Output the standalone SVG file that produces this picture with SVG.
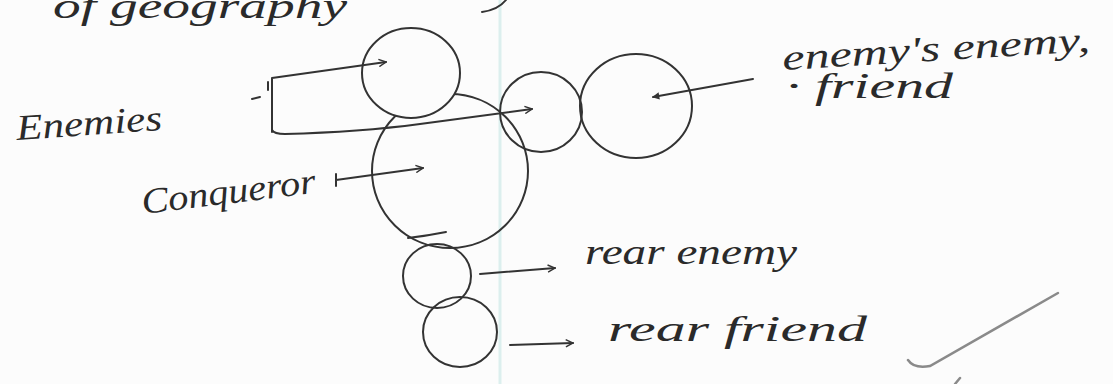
<svg xmlns="http://www.w3.org/2000/svg" width="1113" height="384" viewBox="0 0 1113 384">
<defs>
<style>
.bg{fill:#fcfcfc}
.c{fill:none;stroke:#333;stroke-width:2;stroke-linecap:round}
.ln{fill:none;stroke:#333;stroke-width:2;stroke-linecap:round;stroke-linejoin:round}
.t{font-family:"Liberation Serif",serif;font-style:italic;fill:#2a2a2a;font-size:36px}
.margin{stroke:#dcefee;stroke-width:3}
.check{fill:none;stroke:#8a8a8a;stroke-width:2.5;stroke-linecap:round}
</style>
<marker id="open" viewBox="0 0 10 10" refX="9" refY="5" markerWidth="9" markerHeight="9" markerUnits="userSpaceOnUse" orient="auto">
<path d="M1 1 L9 5 L1 9" fill="none" stroke="#333" stroke-width="1.6"/>
</marker>
<marker id="dot" viewBox="0 0 10 10" refX="8" refY="5" markerWidth="9" markerHeight="9" markerUnits="userSpaceOnUse" orient="auto">
<path d="M1 1 L9 5 L1 9 Z" fill="#333"/>
</marker>
</defs>
<rect class="bg" x="0" y="0" width="1113" height="384"/>
<line class="margin" x1="500" y1="0" x2="500" y2="384"/>

<g id="page-text">
<text class="t" x="53" y="18" textLength="294" lengthAdjust="spacingAndGlyphs" font-size="32">of geography</text>
<path class="ln" d="M482 12 Q498 10 506 0"/>
</g>

<g id="node-conqueror">
<ellipse class="c" cx="450" cy="171" rx="78" ry="77"/>
<path class="ln" d="M408 238 Q426 236 446 232"/>
</g>
<g id="node-enemy-1">
<ellipse class="c" cx="411" cy="73" rx="49" ry="45" fill="#fcfcfc" style="fill:#fcfcfc"/>
</g>
<g id="node-enemy-2">
<ellipse class="c" cx="541" cy="112" rx="41" ry="40"/>
</g>
<g id="node-enemys-enemy">
<ellipse class="c" cx="636" cy="106" rx="56" ry="52"/>
</g>
<g id="node-rear-enemy">
<ellipse class="c" cx="437" cy="276" rx="34" ry="32"/>
</g>
<g id="node-rear-friend">
<ellipse class="c" cx="460" cy="332" rx="37" ry="35"/>
</g>

<g id="label-enemies">
<text class="t" x="17" y="140" textLength="146" lengthAdjust="spacingAndGlyphs" transform="rotate(-4 17 140)">Enemies</text>
</g>
<g id="label-conqueror">
<text class="t" x="143" y="214" textLength="175" lengthAdjust="spacingAndGlyphs" transform="rotate(-7 143 214)">Conqueror</text>
</g>
<g id="label-enemys-enemy">
<text class="t" x="783" y="70" textLength="308" lengthAdjust="spacingAndGlyphs" transform="rotate(-3.5 783 70)">enemy's enemy,</text>
<text class="t" x="786" y="98" textLength="167" lengthAdjust="spacingAndGlyphs">· friend</text>
</g>
<g id="label-rear-enemy">
<text class="t" x="585" y="264" textLength="212" lengthAdjust="spacingAndGlyphs">rear enemy</text>
</g>
<g id="label-rear-friend">
<text class="t" x="608" y="341" textLength="259" lengthAdjust="spacingAndGlyphs">rear friend</text>
</g>

<g id="connectors">
<path class="ln" d="M272 132 L272 78 L386 62" marker-end="url(#open)"/>
<path class="ln" d="M268 82 L268 90"/>
<path class="ln" d="M252 99 L260 97"/>
<path class="ln" d="M272 130 Q274 134 285 134 Q360 132 420 124 L532 109" marker-end="url(#open)"/>
<path class="ln" d="M336 174 L336 186 M336 180 L423 168" marker-end="url(#open)"/>
<path class="ln" d="M753 79 L653 97" marker-end="url(#dot)"/>
<path class="ln" d="M480 274 L555 268" marker-end="url(#open)"/>
<path class="ln" d="M510 345 L573 343" marker-end="url(#open)"/>
</g>

<g id="tick">
<path class="check" d="M908 360 Q914 369 930 366 L1058 293"/>
<path class="check" d="M955 384 L960 378"/>
</g>
</svg>
